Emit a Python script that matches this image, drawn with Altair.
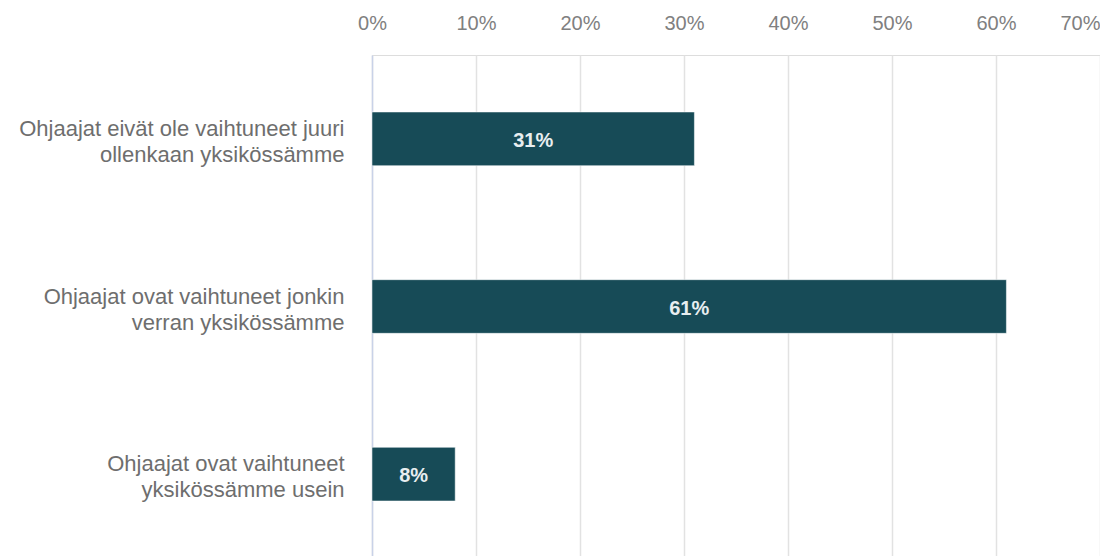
import altair as alt
import pandas as pd

categories = [
    "Ohjaajat eivät ole vaihtuneet juuri\nollenkaan yksikössämme",
    "Ohjaajat ovat vaihtuneet jonkin\nverran yksikössämme",
    "Ohjaajat ovat vaihtuneet\nyksikössämme usein",
]
values = [0.31, 0.61, 0.08]
x_ticks = [0, 0.1, 0.2, 0.3, 0.4, 0.5, 0.6, 0.7]

df = pd.DataFrame({"category": categories, "value": values})
df["mid"] = df["value"] / 2
df["label"] = [f"{round(v*100)}%" for v in values]

FONT = "Liberation Sans"

base = alt.Chart(df)

bars = base.mark_bar(color="#174b57", stroke="#ffffff", strokeWidth=0.5).encode(
    x=alt.X(
        "value:Q",
        scale=alt.Scale(domain=[0, 0.7], nice=False),
        axis=alt.Axis(
            orient="top",
            values=x_ticks,
            format=".0%",
            title=None,
            domain=False,
            ticks=False,
            labelPadding=22,
            labelFontSize=20,
            labelColor="#808080",
            labelFont=FONT,
            gridColor="#e2e2e2",
            gridWidth=1.5,
            labelAlign=alt.expr("datum.value >= 0.7 ? 'right' : 'center'"),
        ),
    ),
    y=alt.Y(
        "category:N",
        sort=categories,
        scale=alt.Scale(paddingInner=0.68, paddingOuter=0.34),
        axis=alt.Axis(
            title=None,
            ticks=False,
            domain=True,
            domainColor="#c9d2e8",
            domainWidth=1.5,
            labelPadding=28,
            labelFontSize=22,
            labelColor="#6e6e6e",
            labelFont=FONT,
            labelLimit=500,
            labelLineHeight=26,
            labelOffset=-10,
            labelExpr="split(datum.label, '\\n')",
            grid=False,
        ),
    ),
)

texts = base.mark_text(
    color="#e8eef0", fontWeight="bold", fontSize=20, font=FONT, baseline="middle", dy=2
).encode(
    x="mid:Q",
    y=alt.Y("category:N", sort=categories),
    text="label:N",
)

chart = (
    alt.layer(bars, texts)
    .properties(width=728, height=503, padding={"left": 10, "top": 5, "right": 0, "bottom": 0})
    .configure_view(stroke=None)
    .configure(background="#ffffff")
)

chart.save("out.html", embed_options={"renderer": "svg", "actions": False})
